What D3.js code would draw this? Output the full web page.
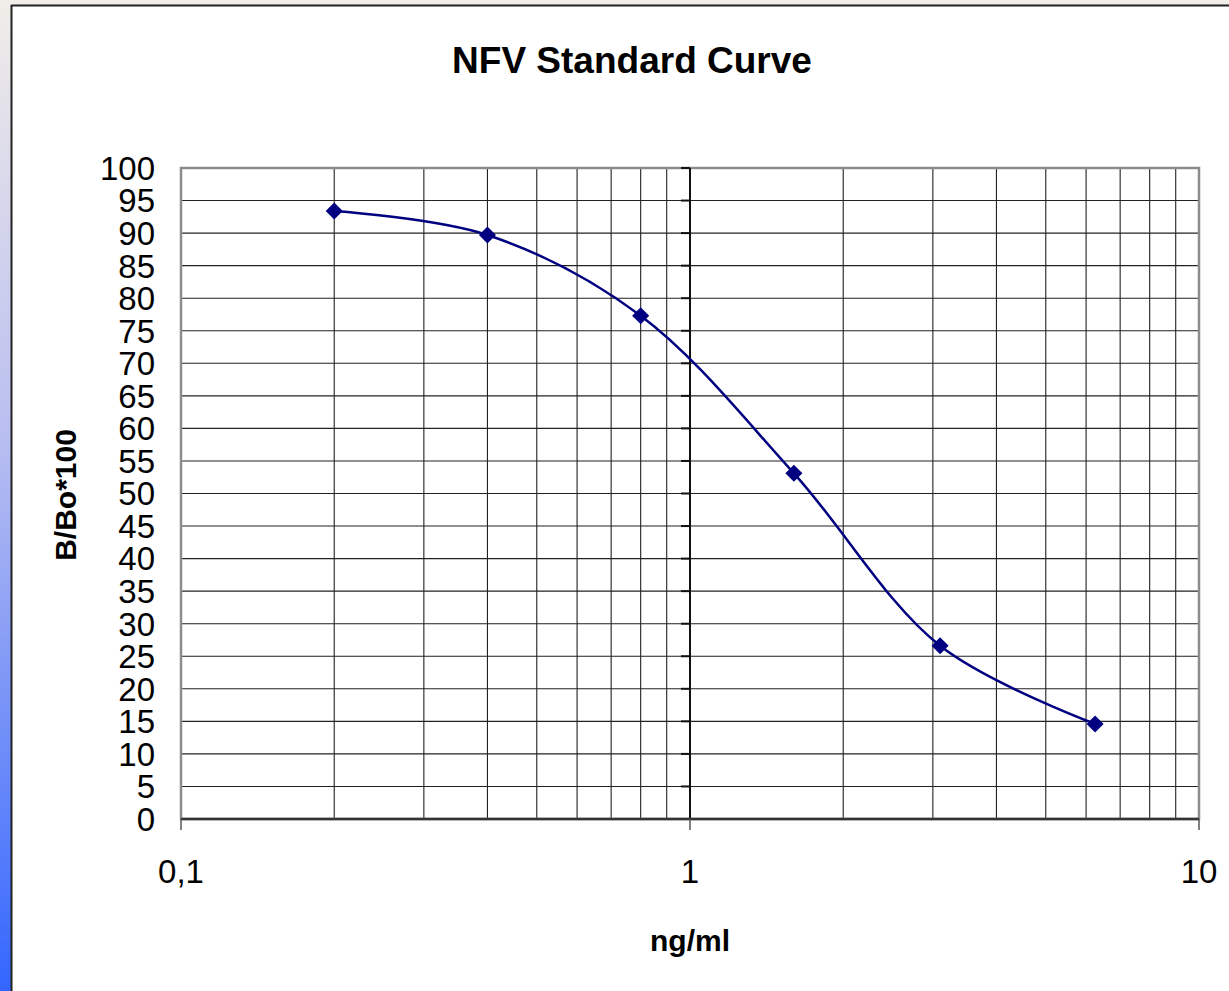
<!DOCTYPE html>
<html>
<head>
<meta charset="utf-8">
<script src="https://cdn.jsdelivr.net/npm/d3@7"></script>
<style>
  html, body { margin: 0; padding: 0; background: #f1ede8; }
  svg { display: block; }
  text { font-family: Arial, "Liberation Sans", sans-serif; fill: #000; }
</style>
</head>
<body>
<svg id="chart" width="1229" height="991"></svg>
<script>
// ---- data ----
const concentrations = [0.2, 0.4, 0.8, 1.6, 3.1, 6.25];   // ng/ml
const bBo100 = [93.4, 89.7, 77.3, 53.1, 26.6, 14.6];        // B/Bo*100
const yTickValues = [0, 5, 10, 15, 20, 25, 30, 35, 40, 45, 50, 55, 60, 65, 70, 75, 80, 85, 90, 95, 100];
const xTickValues = [0.1, 1, 10];
const xTickLabels = ["0,1", "1", "10"];
const xMinorGrid = [0.2, 0.3, 0.4, 0.5, 0.6, 0.7, 0.8, 0.9, 2, 3, 4, 5, 6, 7, 8, 9];
const titleText = "NFV Standard Curve";
const xTitle = "ng/ml";
const yTitle = "B/Bo*100";

const W = 1229, H = 991;
const svg = d3.select("#chart");

// background & panel
const defs = svg.append("defs");
const grad = defs.append("linearGradient").attr("id", "strip")
  .attr("x1", 0).attr("y1", 0).attr("x2", 0).attr("y2", 1);
grad.append("stop").attr("offset", "0%").attr("stop-color", "#f1ede8");
grad.append("stop").attr("offset", "45%").attr("stop-color", "#b7bdf0");
grad.append("stop").attr("offset", "100%").attr("stop-color", "#3366ff");

svg.append("rect").attr("x", 0).attr("y", 0).attr("width", W).attr("height", H).attr("fill", "#f1ede8");
svg.append("rect").attr("x", 0).attr("y", 0).attr("width", 11).attr("height", H).attr("fill", "url(#strip)");
svg.append("rect").attr("x", 11).attr("y", 5).attr("width", W).attr("height", H).attr("fill", "#fff");
svg.append("line").attr("x1", 11).attr("x2", W).attr("y1", 5.5).attr("y2", 5.5).attr("stroke", "#222").attr("stroke-width", 2);
svg.append("line").attr("x1", 11.5).attr("x2", 11.5).attr("y1", 5).attr("y2", H).attr("stroke", "#222").attr("stroke-width", 2);

// plot area
const plot = { left: 181, right: 1199, top: 168, bottom: 819 };
const x = d3.scaleLog().domain([0.1, 10]).range([plot.left, plot.right]);
const y = d3.scaleLinear().domain([0, 100]).range([plot.bottom, plot.top]);

const g = svg.append("g");

// vertical grid
g.selectAll(".vg").data(xMinorGrid).enter().append("line")
  .attr("x1", d => x(d)).attr("x2", d => x(d))
  .attr("y1", plot.top).attr("y2", plot.bottom)
  .attr("stroke", "#222").attr("stroke-width", 1.1);
// horizontal grid
g.selectAll(".hg").data(yTickValues.filter(v => v > 0 && v < 100)).enter().append("line")
  .attr("x1", plot.left).attr("x2", plot.right)
  .attr("y1", d => y(d)).attr("y2", d => y(d))
  .attr("stroke", "#222").attr("stroke-width", 1.1);

// plot border
g.append("rect").attr("x", plot.left).attr("y", plot.top)
  .attr("width", plot.right - plot.left).attr("height", plot.bottom - plot.top)
  .attr("fill", "none").attr("stroke", "#8c8c8c").attr("stroke-width", 2.5);

// y axis (crosses at x = 1)
const yAxisX = x(1);
g.append("line").attr("x1", yAxisX).attr("x2", yAxisX).attr("y1", plot.top).attr("y2", plot.bottom)
  .attr("stroke", "#111").attr("stroke-width", 2);
g.selectAll(".ytk").data(yTickValues).enter().append("line")
  .attr("x1", yAxisX - 9).attr("x2", yAxisX)
  .attr("y1", d => y(d)).attr("y2", d => y(d))
  .attr("stroke", "#111").attr("stroke-width", 2);

// x axis
g.append("line").attr("x1", plot.left).attr("x2", plot.right).attr("y1", plot.bottom).attr("y2", plot.bottom)
  .attr("stroke", "#333").attr("stroke-width", 2.5);
g.selectAll(".xtk").data(xTickValues).enter().append("line")
  .attr("x1", d => x(d)).attr("x2", d => x(d))
  .attr("y1", plot.bottom).attr("y2", plot.bottom + 11)
  .attr("stroke", "#555").attr("stroke-width", 1.5);

// y tick labels
svg.selectAll(".yl").data(yTickValues).enter().append("text")
  .attr("x", 155).attr("y", d => y(d))
  .attr("dy", "0.36em")
  .attr("text-anchor", "end")
  .style("font-size", "33px")
  .text(d => d);

// x tick labels
svg.selectAll(".xl").data(xTickValues).enter().append("text")
  .attr("x", d => x(d)).attr("y", 871)
  .attr("dy", "0.36em")
  .attr("text-anchor", "middle")
  .style("font-size", "33px")
  .text((d, i) => xTickLabels[i]);

// titles
svg.append("text").attr("x", 632).attr("y", 73)
  .attr("text-anchor", "middle").style("font-size", "37px").style("font-weight", "bold")
  .text(titleText);
svg.append("text").attr("x", 690).attr("y", 951)
  .attr("text-anchor", "middle").style("font-size", "30px").style("font-weight", "bold")
  .text(xTitle);
svg.append("text").attr("transform", "translate(76,495) rotate(-90)")
  .attr("text-anchor", "middle").style("font-size", "30px").style("font-weight", "bold")
  .text(yTitle);

// data
const pts = concentrations.map((c, i) => ({ c, v: bBo100[i] }));
const line = d3.line().x(d => x(d.c)).y(d => y(d.v)).curve(d3.curveCatmullRom.alpha(0.5));
g.append("path").datum(pts).attr("d", line)
  .attr("fill", "none").attr("stroke", "#000080").attr("stroke-width", 2.5);
const sym = d3.symbol().type(d3.symbolDiamond2).size(185);
g.selectAll(".pt").data(pts).enter().append("path")
  .attr("transform", d => `translate(${x(d.c)},${y(d.v)})`)
  .attr("d", sym).attr("fill", "#000080");
</script>
</body>
</html>
